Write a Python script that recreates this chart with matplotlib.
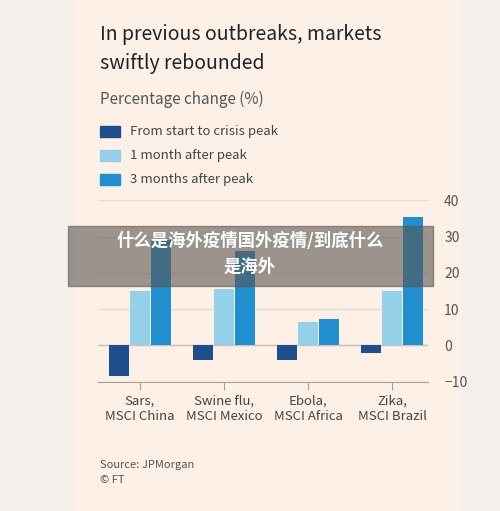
import numpy as np
import matplotlib.pyplot as plt

plt.rcParams['font.family'] = ['Noto Sans CJK SC', 'DejaVu Sans']

categories = ['Sars,\nMSCI China', 'Swine flu,\nMSCI Mexico', 'Ebola,\nMSCI Africa', 'Zika,\nMSCI Brazil']
start_to_peak = [-8.5, -4.0, -4.0, -2.0]
one_month = [15.0, 15.5, 6.5, 15.0]
three_months = [29.0, 26.0, 7.3, 35.5]
series_names = ['From start to crisis peak', '1 month after peak', '3 months after peak']
colors = ['#1f4e8c', '#94d0e8', '#1f8fd0']

fig = plt.figure(figsize=(5, 5.11), dpi=100)
fig.patch.set_facecolor('#f4efea')
card = plt.Rectangle((0.15, 0.0), 0.77, 1.0, transform=fig.transFigure, color='#fdf0e6', zorder=-1)
fig.patches.append(card)

fig.text(0.2, 0.922, 'In previous outbreaks, markets', fontsize=14, color='#222222')
fig.text(0.2, 0.865, 'swiftly rebounded', fontsize=14, color='#222222')
fig.text(0.2, 0.797, 'Percentage change (%)', fontsize=11, color='#555555')
for i, (n, c) in enumerate(zip(series_names, colors)):
    y = 0.732 - i * 0.047
    fig.patches.append(plt.Rectangle((0.2, y), 0.04, 0.022, transform=fig.transFigure, color=c))
    fig.text(0.26, y + 0.011, n, fontsize=9.5, color='#444444', va='center')

ax = fig.add_axes([0.195, 0.253, 0.66, 0.355])
ax.set_facecolor('#fdf0e6')
x = np.arange(len(categories))
w = 0.25
for k, (vals, c) in enumerate(zip([start_to_peak, one_month, three_months], colors)):
    ax.bar(x + (k - 1) * w, vals, w * 0.95, color=c, zorder=3)
ax.set_ylim(-10, 40)
ax.set_xlim(-0.5, 3.42)
ax.set_yticks([-10, 0, 10, 20, 30, 40])
ax.yaxis.tick_right()
ax.tick_params(axis='y', length=0, labelsize=10, labelcolor='#555555', pad=12)
ax.grid(axis='y', color='#e6dcd3', lw=1, zorder=0)
ax.axhline(0, color='#cdc3ba', lw=1, zorder=2)
ax.set_xticks(x)
ax.set_xticklabels(categories, fontsize=9.5, color='#444444')
ax.tick_params(axis='x', length=6, color='#aaa098', labelcolor='#444444')
for s in ax.spines.values():
    s.set_visible(False)
ax.spines['bottom'].set_visible(True)
ax.spines['bottom'].set_color('#aaa098')

fig.text(0.2, 0.085, 'Source: JPMorgan', fontsize=8, color='#555555')
fig.text(0.2, 0.055, '© FT', fontsize=8, color='#555555', style='italic')

fig.patches.append(plt.Rectangle((0.136, 0.44), 0.73, 0.118, transform=fig.transFigure,
                                 color='#5a5550', alpha=0.6, zorder=10))
fig.text(0.5, 0.528, '什么是海外疫情国外疫情/到底什么', fontsize=12.5, color='white',
         weight='bold', ha='center', va='center', zorder=11)
fig.text(0.5, 0.478, '是海外', fontsize=12.5, color='white', weight='bold',
         ha='center', va='center', zorder=11)

fig.savefig('out.png', facecolor=fig.get_facecolor())
